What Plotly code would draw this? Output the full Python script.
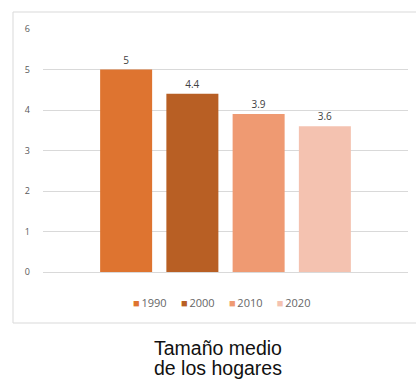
import plotly.graph_objects as go

years = ["1990", "2000", "2010", "2020"]
values = [5, 4.4, 3.9, 3.6]
colors = ["#DE7430", "#B85F24", "#EF9A72", "#F4C2B0"]
category = ["Tamaño medio de los hogares"]
title_lines = ["Tamaño medio", "de los hogares"]

fig = go.Figure()
for yr, v, c in zip(years, values, colors):
    fig.add_trace(go.Bar(
        x=category, y=[v], name=yr, marker_color=c, marker_line_width=0,
        text=[f"{v:g}"], textposition="outside", cliponaxis=False,
        textfont=dict(size=10, color="#404040", family="Open Sans"),
        showlegend=False,
    ))

W, H = 416, 381
ml, mr, mt, mb = 43, 8, 29, 109
pw, ph = W - ml - mr, H - mt - mb

def px(x):
    return (x - ml) / pw

def py(y):
    return (H - mb - y) / ph

legend_txt = "&nbsp;&nbsp;&nbsp;&nbsp;&nbsp;".join(
    f'<span style="color:{c}">■</span>\u2009{yr}' for yr, c in zip(years, colors)
)

annotations = [
    dict(xref="paper", yref="paper", x=px(221), y=py(302), text=legend_txt,
         showarrow=False, xanchor="center", yanchor="middle",
         font=dict(size=11, color="#666666", family="Open Sans")),
]
for line, yc in zip(title_lines, [348, 368]):
    annotations.append(dict(xref="paper", yref="paper", x=px(218), y=py(yc), text=line,
                            showarrow=False, xanchor="center", yanchor="middle",
                            font=dict(size=19.5, color="#111111", family="Liberation Sans")))

fig.update_layout(
    width=W, height=H,
    margin=dict(l=ml, r=mr, t=mt, b=mb),
    paper_bgcolor="white", plot_bgcolor="white",
    barmode="group", bargap=0.274, bargroupgap=0.215,
    font=dict(family="Open Sans", color="#595959"),
    xaxis=dict(showticklabels=False, showgrid=False, zeroline=False, showline=False),
    yaxis=dict(range=[0, 6], dtick=1, showgrid=True, gridcolor="#D9D9D9", gridwidth=1,
               zeroline=True, zerolinecolor="#D9D9D9", zerolinewidth=1,
               tickfont=dict(size=9, color="#595959"), ticklabelstandoff=12),
    shapes=[dict(type="rect", xref="paper", yref="paper",
                 x0=px(13), x1=px(430), y0=py(323), y1=py(12),
                 line=dict(color="#D9D9D9", width=1), fillcolor="rgba(0,0,0,0)", layer="below")],
    annotations=annotations,
)

fig.write_html("out.html")
